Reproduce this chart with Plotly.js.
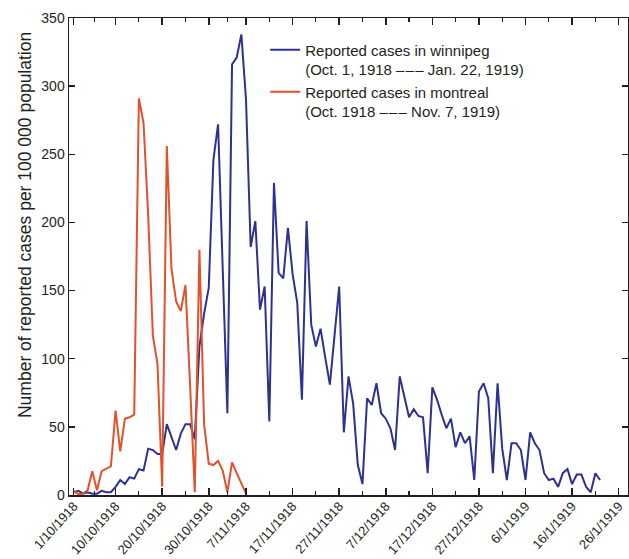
<!DOCTYPE html>
<html><head><meta charset="utf-8">
<script src="https://cdn.plot.ly/plotly-3.0.1.min.js"></script>
<style>html,body{margin:0;padding:0;background:#fff}#chart{width:629px;height:559px}</style>
</head><body><div id="chart"></div>
<script>
// Daily reported cases per 100 000 population, starting 1 Oct 1918
const winnipegStart = '1918-10-01';
const winnipegCases = [
  2, 3, 1, 2, 1, 1, 3, 2, 2, 6,
  11, 8, 13, 12, 19, 18, 34, 33, 30, 30,
  52, 42, 33, 45, 52, 52, 41, 109, 133, 152,
  246, 272, 166, 60, 316, 321, 338, 290, 182, 201,
  136, 153, 54, 229, 163, 159, 196, 162, 141, 70,
  201, 125, 109, 122, 101, 81, 117, 153, 46, 87,
  67, 22, 8, 71, 66, 82, 60, 56, 49, 33,
  87, 71, 57, 63, 58, 57, 16, 79, 70, 59,
  49, 56, 35, 46, 38, 43, 11, 76, 82, 71,
  16, 82, 34, 11, 38, 38, 33, 11, 46, 38,
  33, 16, 11, 12, 6, 16, 19, 8, 15, 15,
  6, 2, 16, 11
];
const montrealStart = '1918-10-01';
const montrealCases = [
  3, 0.5, 1, 3.5, 17.5, 3.5, 17.5, 19, 21, 62,
  32, 56, 57, 59, 291, 273, 205, 117, 96, 6,
  256, 166, 142, 135, 154, 80, 2, 180, 52, 23,
  22, 25, 18, 2, 24, 16, 8, 1
];
const seriesNames = [
  'Reported cases in winnipeg<br>(Oct. 1, 1918 –\u200a–\u200a– Jan. 22, 1919)',
  'Reported cases in montreal<br>(Oct. 1918 –\u200a–\u200a– Nov. 7, 1919)'
];
const yTitle = 'Number of reported cases per 100 000 population';
const tickDates = ['1918-10-01','1918-10-10','1918-10-20','1918-10-30','1918-11-07','1918-11-17',
  '1918-11-27','1918-12-07','1918-12-17','1918-12-27','1919-01-06','1919-01-16','1919-01-26'];
const tickLabels = ['1/10/1918','10/10/1918','20/10/1918','30/10/1918','7/11/1918','17/11/1918',
  '27/11/1918','7/12/1918','17/12/1918','27/12/1918','6/1/1919','16/1/1919','26/1/1919'];
const minorTickDates = ['1918-10-05 12:00','1918-10-15','1918-10-25','1918-11-03','1918-11-12',
  '1918-11-22','1918-12-02','1918-12-12','1918-12-22','1919-01-01','1919-01-11','1919-01-21'];
const yTicks = [0, 50, 100, 150, 200, 250, 300, 350];

function dailyDates(start, n) {
  const d0 = new Date(start + 'T00:00:00Z');
  const out = [];
  for (let i = 0; i < n; i++) {
    out.push(new Date(d0.getTime() + i * 86400000).toISOString().slice(0, 10));
  }
  return out;
}

const ink = '#231f20';
const FONT = 'Liberation Sans, Arial, Helvetica, sans-serif';

const traces = [
  {x: dailyDates(winnipegStart, winnipegCases.length), y: winnipegCases, type: 'scatter', mode: 'lines',
   name: seriesNames[0], line: {color: '#2e3192', width: 2}},
  {x: dailyDates(montrealStart, montrealCases.length), y: montrealCases, type: 'scatter', mode: 'lines',
   name: seriesNames[1], line: {color: '#e4502a', width: 2}}
];

const layout = {
  width: 629, height: 559,
  margin: {l: 69, r: 1, t: 18, b: 64},
  paper_bgcolor: '#ffffff', plot_bgcolor: '#ffffff',
  font: {family: FONT, size: 14, color: ink},
  showlegend: true,
  legend: {x: 0.351, y: 0.9676, xanchor: 'left', yanchor: 'top', bgcolor: 'rgba(0,0,0,0)',
           font: {size: 15, color: ink}, valign: 'top', tracegroupgap: 0},
  xaxis: {
    type: 'date', range: ['1918-09-30', '1919-01-28'],
    tickmode: 'array', tickvals: tickDates, ticktext: tickLabels, tickangle: -48,
    ticks: 'inside', ticklen: 7, tickwidth: 1.5, tickcolor: ink, ticklabelstandoff: -3,
    showline: true, linecolor: ink, linewidth: 1.5, mirror: 'ticks',
    showgrid: false, zeroline: false, tickfont: {size: 13, color: ink},
    minor: {tickmode: 'array', tickvals: minorTickDates, ticks: 'inside', ticklen: 4, tickwidth: 1.2, tickcolor: ink, showgrid: false}
  },
  yaxis: {
    range: [0, 350], tickmode: 'array', tickvals: yTicks,
    ticks: 'inside', ticklen: 6, tickwidth: 1.5, tickcolor: ink,
    showline: true, linecolor: ink, linewidth: 1.5, mirror: 'ticks',
    showgrid: false, zeroline: false, tickfont: {size: 14, color: ink}
  },
  annotations: [{
    text: yTitle, textangle: -90, showarrow: false,
    xref: 'paper', yref: 'paper', x: -0.0787, y: 0.566, xanchor: 'center', yanchor: 'middle',
    font: {family: FONT, size: 17.5, color: ink}
  }]
};

Plotly.newPlot('chart', traces, layout, {displayModeBar: false, staticPlot: true});
</script>
</body></html>
